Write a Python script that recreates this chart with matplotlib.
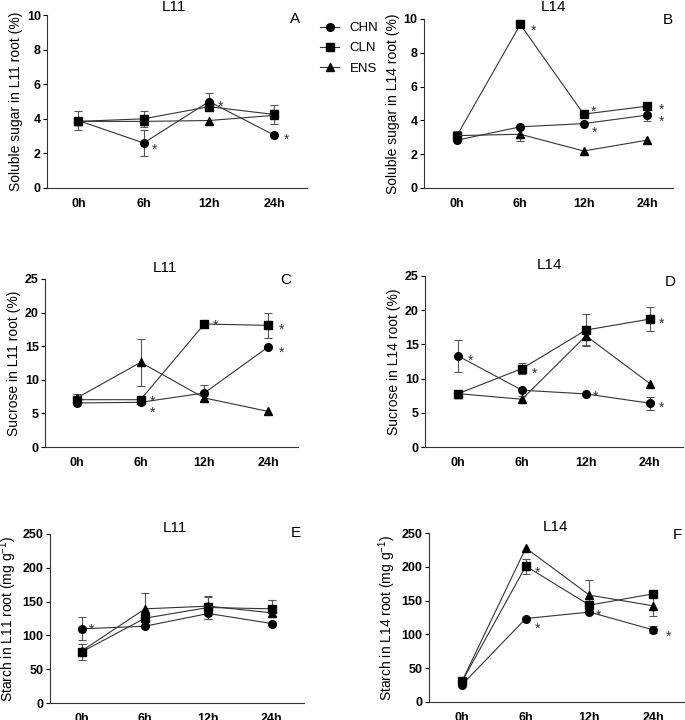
import numpy as np
import matplotlib
matplotlib.use('Agg')
import matplotlib.pyplot as plt
from matplotlib.lines import Line2D

plt.rcParams['font.family'] = ['Liberation Sans', 'DejaVu Sans']
plt.rcParams['mathtext.default'] = 'regular'

times = ['0h', '6h', '12h', '24h']
series = ['CHN', 'CLN', 'ENS']
markers = {'CHN': 'o', 'CLN': 's', 'ENS': '^'}
nan = np.nan

# soluble sugar (%)
sugar_l11 = {'CHN': [3.9, 2.6, 5.0, 3.05], 'CLN': [3.85, 4.0, 4.7, 4.25], 'ENS': [3.85, 3.85, 3.9, 4.2]}
sugar_l11_err = {'CHN': [0.55, 0.75, 0.52, nan], 'CLN': [nan, 0.45, nan, 0.55], 'ENS': [nan, nan, nan, nan]}
sugar_l14 = {'CHN': [2.83, 3.62, 3.81, 4.31], 'CLN': [3.1, 9.68, 4.37, 4.84], 'ENS': [3.1, 3.18, 2.19, 2.83]}
sugar_l14_err = {'CHN': [nan, nan, nan, 0.32], 'CLN': [0.28, nan, nan, 0.15], 'ENS': [nan, 0.42, nan, nan]}

# sucrose (%)
sucrose_l11 = {'CHN': [6.55, 6.65, 8.04, 14.88], 'CLN': [7.04, 7.04, 18.3, 18.1], 'ENS': [7.3, 12.6, 7.3, 5.3]}
sucrose_l11_err = {'CHN': [nan, nan, 1.2, nan], 'CLN': [0.85, nan, nan, 1.9], 'ENS': [nan, 3.5, 0.5, nan]}
sucrose_l14 = {'CHN': [13.3, 8.3, 7.76, 6.4], 'CLN': [7.8, 11.47, 17.1, 18.7], 'ENS': [7.8, 6.98, 16.26, 9.28]}
sucrose_l14_err = {'CHN': [2.4, nan, nan, 0.95], 'CLN': [nan, 0.85, 2.4, 1.8], 'ENS': [nan, 0.5, 1.4, nan]}

# starch (mg g-1)
starch_l11 = {'CHN': [109.7, 113.6, 132.4, 117.6], 'CLN': [75.5, 125.5, 141.3, 139.3], 'ENS': [77.0, 139.3, 143.3, 133.4]}
starch_l11_err = {'CHN': [17, nan, 8, nan], 'CLN': [11.5, nan, 17, 12.5], 'ENS': [nan, 24, 13, 5]}
starch_l14 = {'CHN': [25.7, 123.5, 133.0, 106.7], 'CLN': [30.6, 201.0, 143.3, 160.0], 'ENS': [31.0, 227.8, 158.0, 142.3]}
starch_l14_err = {'CHN': [nan, nan, nan, 5], 'CLN': [nan, 11, nan, nan], 'ENS': [nan, nan, 23, 15]}

# significance marks: (series, time index, dx px, dy px)
stars_a = [('CHN', 1, 11, -2), ('CHN', 2, 12, 0), ('CHN', 3, 12, 0)]
stars_b = [('CLN', 1, 13, -2), ('CLN', 2, 10, 7), ('CHN', 2, 11, -4), ('CLN', 3, 14, 1), ('CHN', 3, 14, -2)]
stars_c = [('CLN', 1, 12, 3), ('CHN', 1, 12, -6), ('CLN', 2, 11, 3), ('CLN', 3, 13, 0), ('CHN', 3, 13, -1)]
stars_d = [('CHN', 0, 12, 0), ('CLN', 1, 12, 0), ('CHN', 2, 10, 2), ('CLN', 3, 12, 0), ('CHN', 3, 12, 0)]
stars_e = [('CHN', 0, 10, 4)]
stars_f = [('CLN', 1, 12, -2), ('CHN', 1, 12, -5), ('CHN', 2, 9, 1), ('CHN', 3, 15, -2)]

W, H = 685, 720
fig = plt.figure(figsize=(W / 100, H / 100), dpi=100)


def px_axes(left, top, right, bottom):
    return fig.add_axes([left / W, 1 - bottom / H, (right - left) / W, (bottom - top) / H])


panels = [
    # box px, xlim, data, err, stars, ylim, yticks, ylabel, title, letter, title pos, letter pos
    ((47, 15, 307, 188), (-0.48, 3.5), sugar_l11, sugar_l11_err, stars_a, 10, np.arange(0, 11, 2),
     'Soluble sugar in L11 root (%)', 'L11', 'A', (174, 7), (295, 19)),
    ((424, 19, 673, 188), (-0.52, 3.41), sugar_l14, sugar_l14_err, stars_b, 10, np.arange(0, 11, 2),
     'Soluble sugar in L14 root (%)', 'L14', 'B', (553, 7), (668, 20)),
    ((45, 279, 298, 447), (-0.5, 3.47), sucrose_l11, sucrose_l11_err, stars_c, 25, np.arange(0, 26, 5),
     'Sucrose in L11 root (%)', 'L11', 'C', (165, 268), (286, 280)),
    ((425, 276, 683, 447), (-0.52, 3.52), sucrose_l14, sucrose_l14_err, stars_d, 25, np.arange(0, 26, 5),
     'Sucrose in L14 root (%)', 'L14', 'D', (550, 265), (670, 282)),
    ((50, 534, 304, 703), (-0.5, 3.51), starch_l11, starch_l11_err, stars_e, 250, np.arange(0, 251, 50),
     'Starch in L11 root (mg g$^{-1}$)', 'L11', 'E', (175, 528), (296, 533)),
    ((429, 533, 685, 702), (-0.52, 3.5), starch_l14, starch_l14_err, stars_f, 250, np.arange(0, 251, 50),
     'Starch in L14 root (mg g$^{-1}$)', 'L14', 'F', (555, 527), (677, 535)),
]

x = np.arange(len(times))
for box, xlim, data, err, stars, ymax, yticks, ylabel, title, letter, tpos, lpos in panels:
    ax = px_axes(*box)
    for s in series:
        ax.errorbar(x, data[s], yerr=err[s], fmt='none', ecolor='#555555', elinewidth=0.8,
                    capsize=3, capthick=0.8, zorder=2)
        ax.plot(x, data[s], color='#333333', lw=0.8, marker=markers[s], ms=5.5,
                mfc='black', mec='black', zorder=3)
    for s, i, dx, dy in stars:
        ax.annotate('*', xy=(x[i], data[s][i]), xytext=(dx * 0.72, dy * 0.72 - 3.5),
                    textcoords='offset points', ha='center', va='center', fontsize=10, color='#333333')
    ax.set_xlim(*xlim)
    ax.set_ylim(0, ymax)
    ax.set_xticks(x)
    ax.set_xticklabels(times, fontweight='bold', fontsize=9)
    ax.set_yticks(yticks)
    ax.set_yticklabels([str(t) for t in yticks], fontweight='bold', fontsize=9)
    ax.tick_params(axis='x', length=0, pad=7)
    ax.tick_params(axis='y', length=3, width=0.8, pad=1.5)
    ax.set_ylabel(ylabel, fontsize=10, labelpad=2.5)
    for sp in ['top', 'right']:
        ax.spines[sp].set_visible(False)
    for sp in ['left', 'bottom']:
        ax.spines[sp].set_linewidth(0.8)
        ax.spines[sp].set_color('#333333')
    fig.text(tpos[0] / W, 1 - tpos[1] / H, title, ha='center', va='center', fontsize=11)
    fig.text(lpos[0] / W, 1 - lpos[1] / H, letter, ha='center', va='center', fontsize=11)

handles = [Line2D([], [], color='#333333', lw=0.8, marker=markers[s], ms=5.5, mfc='black', mec='black')
           for s in series]
fig.legend(handles, series, loc='upper left', bbox_to_anchor=(320 / W, 1 - 22 / H), frameon=False,
           fontsize=9.5, handlelength=1.45, handletextpad=0.8, labelspacing=0.6,
           borderpad=0, borderaxespad=0)

fig.savefig('out.png', dpi=100)
